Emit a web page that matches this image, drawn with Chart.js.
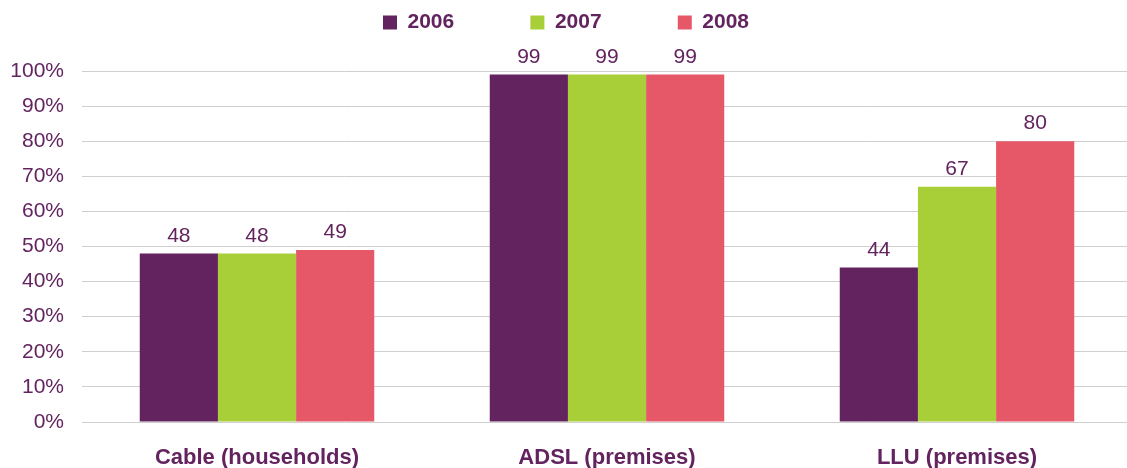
<!DOCTYPE html>
<html>
<head>
<meta charset="utf-8">
<script src="https://cdn.jsdelivr.net/npm/chart.js@4"></script>
<style>
  html, body { margin: 0; padding: 0; background: #fff; overflow: hidden; }
</style>
</head>
<body>
<canvas id="coverage-chart" width="1132" height="468"></canvas>
<script>
var categories = ["Cable (households)", "ADSL (premises)", "LLU (premises)"];
var years = ["2006", "2007", "2008"];
var values2006 = [48, 99, 44];
var values2007 = [48, 99, 67];
var values2008 = [49, 99, 80];
var yTicks = [0, 10, 20, 30, 40, 50, 60, 70, 80, 90, 100];

var purple = "#63235f";
var colours = ["#63235f", "#a8ce38", "#e65868"];

Chart.defaults.font.family = "'Liberation Sans', Arial, sans-serif";
Chart.defaults.font.size = 21;
Chart.defaults.color = purple;

// numbers above each bar
var barLabels = {
    id: "barLabels",
    afterDatasetsDraw: function (chart) {
        var ctx = chart.ctx;
        ctx.save();
        ctx.font = "21px 'Liberation Sans', Arial, sans-serif";
        ctx.fillStyle = purple;
        ctx.textAlign = "center";
        ctx.textBaseline = "alphabetic";
        chart.data.datasets.forEach(function (ds, i) {
            chart.getDatasetMeta(i).data.forEach(function (bar, j) {
                ctx.fillText(ds.data[j], bar.x, bar.y - 12);
            });
        });
        ctx.restore();
    }
};

// leave room between the legend and the plot
var legendGap = {
    id: "legendGap",
    beforeLayout: function (chart) {
        var lg = chart.legend;
        if (!lg || lg._gapPatched) return;
        var fit = lg.fit;
        lg.fit = function () {
            fit.call(this);
            this.height = 71;
        };
        lg._gapPatched = true;
    }
};

var ctx = document.getElementById("coverage-chart").getContext("2d");
var chart = new Chart(ctx, {
    type: "bar",
    data: {
        labels: categories,
        datasets: [
            { label: years[0], data: values2006, backgroundColor: colours[0] },
            { label: years[1], data: values2007, backgroundColor: colours[1] },
            { label: years[2], data: values2008, backgroundColor: colours[2] }
        ]
    },
    options: {
        responsive: false,
        animation: false,
        devicePixelRatio: 1,
        layout: { padding: 0 },
        datasets: {
            bar: { categoryPercentage: 0.67, barPercentage: 1.0 }
        },
        plugins: {
            tooltip: { enabled: false },
            legend: {
                position: "top",
                labels: {
                    boxWidth: 14,
                    boxHeight: 14,
                    padding: 12,
                    color: purple,
                    font: { size: 21, weight: "bold" },
                    generateLabels: function (chart) {
                        var n = chart.data.datasets.length;
                        return chart.data.datasets.map(function (ds, i) {
                            // trailing spaces spread the entries apart
                            var pad = i < n - 1 ? "           " : "";
                            return {
                                text: ds.label + pad,
                                fillStyle: ds.backgroundColor,
                                strokeStyle: ds.backgroundColor,
                                lineWidth: 0,
                                fontColor: purple,
                                datasetIndex: i
                            };
                        });
                    }
                }
            }
        },
        scales: {
            x: {
                grid: { display: false },
                border: { display: false },
                ticks: {
                    padding: 15,
                    color: purple,
                    font: { size: 22, weight: "bold" }
                },
                afterFit: function (scale) { scale.height = 46; }
            },
            y: {
                min: 0,
                max: 100,
                afterBuildTicks: function (scale) {
                    scale.ticks = yTicks.map(function (v) { return { value: v }; });
                },
                grid: { color: "#cfcfcf", lineWidth: 1, drawTicks: false },
                border: { display: false },
                ticks: {
                    padding: 18,
                    color: purple,
                    font: { size: 21 },
                    callback: function (v) { return v + "%"; }
                },
                afterFit: function (scale) { scale.width = 82; }
            }
        }
    },
    plugins: [barLabels, legendGap]
});
</script>
</body>
</html>
